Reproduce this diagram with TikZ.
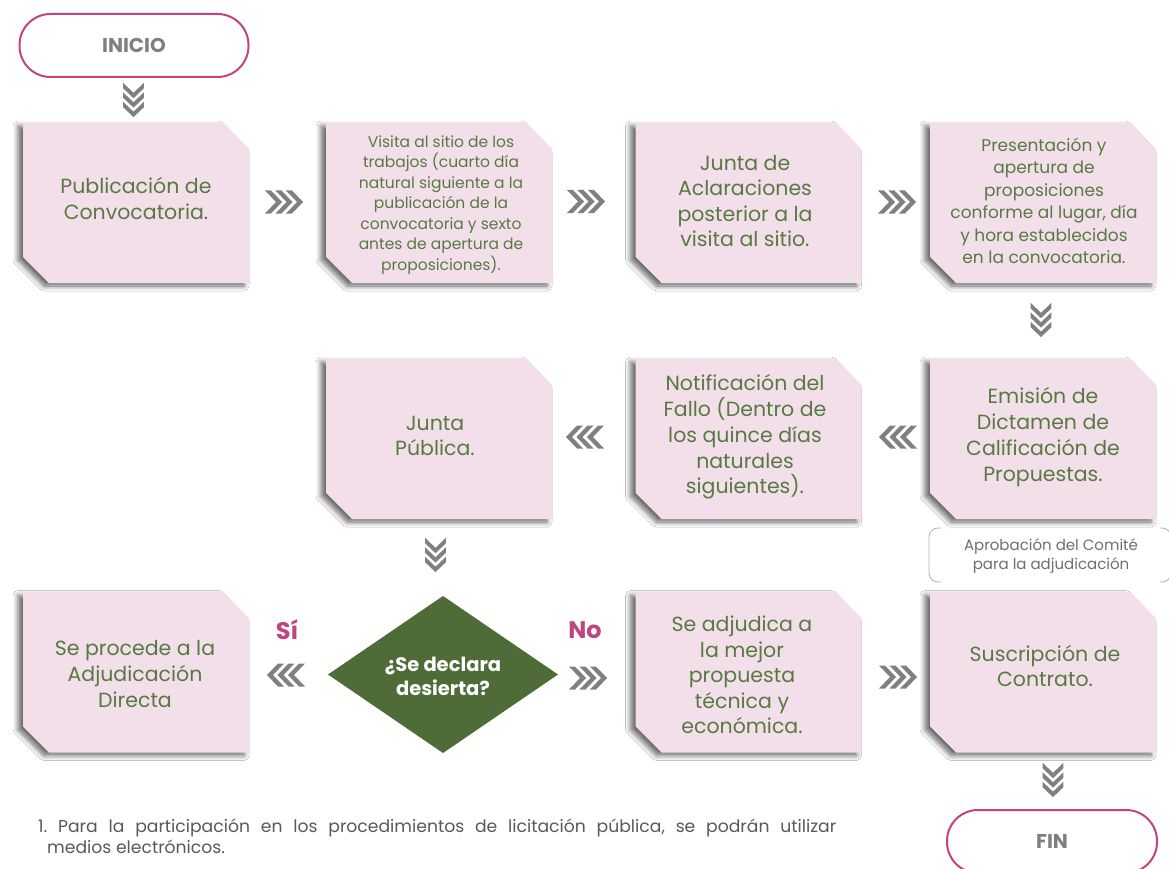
\documentclass[tikz,border=0pt]{standalone}
\usepackage{fontspec}
\setmainfont{Poppins}
\usetikzlibrary{shadows.blur,calc}
\definecolor{boxpink}{HTML}{F2DFEA}
\definecolor{txtgreen}{HTML}{587A42}
\definecolor{dgreen}{HTML}{4E6B38}
\definecolor{chevgray}{HTML}{808080}
\definecolor{magenta}{HTML}{C0457F}
\definecolor{termgray}{HTML}{7F7F7F}
\definecolor{notegray}{HTML}{6F6F6F}
\definecolor{foot}{HTML}{595959}
\newcommand\fs[2]{\fontsize{#1}{#2}\selectfont}
\newcommand\flowbox[7]{%
  \fill[boxpink, blur shadow={shadow xshift=-5pt, shadow yshift=-3pt, shadow blur steps=8, shadow blur radius=5pt, shadow opacity=60}]
    ($(#2,#3)+(-113,-80)$) -- ($(#2,#3)+(88,-80)$) -- ($(#2,#3)+(113,-54)$) --
    ($(#2,#3)+(113,80)$) -- ($(#2,#3)+(-87,80)$) -- ($(#2,#3)+(-113,54)$) -- cycle;
  \node[boxtext, font=#6] (#1) at (#4,#5) {#7};
}
\tikzset{
  boxtext/.style={text=txtgreen, align=center, inner sep=0pt},
  terminal/.style={draw=magenta, line width=2pt, rounded corners=31pt, minimum height=63pt, text=termgray, font=\bfseries\fs{20}{23}},
  chev/.pic={
    \foreach \i in {0,1,2}{
      \fill[chevgray] (-19+10.5*\i,-11.5) -- (-13+10.5*\i,-11.5) -- (-2+10.5*\i,0) -- (-13+10.5*\i,11.5) -- (-19+10.5*\i,11.5) -- (-8+10.5*\i,0) -- cycle;
    }
  },
  yesno/.style={text=magenta, font=\bfseries\fs{24}{26}, inner sep=0pt},
}
\begin{document}
\begin{tikzpicture}[x=1pt,y=-1pt]
\useasboundingbox[fill=white] (0,0) rectangle (1169,869);

% terminals
\node[terminal, minimum width=229pt] (inicio) at (134,45.5) {INICIO};
\node[terminal, minimum width=210pt] (fin) at (1052,841.5) {FIN};

% row 1
\flowbox{b11}{136}{203}{136}{199}{\fs{20.5}{26}}{Publicación de\\Convocatoria.}
\flowbox{b12}{439}{203}{441}{205}{\fs{15.5}{20.5}}{Visita al sitio de los\\trabajos (cuarto día\\natural siguiente a la\\publicación de la\\convocatoria y sexto\\antes de apertura de\\proposiciones).}
\flowbox{b13}{748.5}{203}{745}{201}{\fs{20.5}{25.5}}{Junta de\\Aclaraciones\\posterior a la\\visita al sitio.}
\flowbox{b14}{1043}{203}{1044}{201}{\fs{17}{22.5}}{Presentación y\\apertura de\\proposiciones\\conforme al lugar, día\\y hora establecidos\\en la convocatoria.}

% row 2
\flowbox{b22}{439}{439}{435}{436}{\fs{20.5}{25.8}}{Junta\\Pública.}
\flowbox{b23}{748.5}{439}{745}{437}{\fs{20.5}{25.8}}{Notificación del\\Fallo (Dentro de\\los quince días\\naturales\\siguientes).}
\flowbox{b24}{1043}{439}{1043}{437}{\fs{20.5}{25.8}}{Emisión de\\Dictamen de\\Calificación de\\Propuestas.}

% row 3
\flowbox{b31}{136}{672.5}{135}{674}{\fs{20.5}{25.8}}{Se procede a la\\Adjudicación\\Directa}
\flowbox{b33}{748.5}{672.5}{742}{675}{\fs{20.5}{25.5}}{Se adjudica a\\la mejor\\propuesta\\técnica y\\económica.}
\flowbox{b34}{1043}{672.5}{1045}{666}{\fs{20.5}{25.8}}{Suscripción de\\Contrato.}

% decision
\fill[dgreen] (328,674.5) -- (443,596) -- (558,674.5) -- (443,753) -- cycle;
\node[text=white, align=center, inner sep=0pt, font=\bfseries\fs{19.5}{24}] (dec) at (443,676) {¿Se declara\\desierta?};
\node[yesno] (si) at (287,630) {Sí};
\node[yesno] (no) at (585,630) {No};

% chevrons
\pic[rotate=-90, scale=0.9] at (133.5,100) {chev};
\pic at (284,202) {chev};
\pic at (586,201.5) {chev};
\pic at (897,202) {chev};
\pic[rotate=-90, scale=0.9] at (1041,320) {chev};
\pic[rotate=180] at (898,437) {chev};
\pic[rotate=180] at (585,437) {chev};
\pic[rotate=-90, scale=0.9] at (435.5,555) {chev};
\pic[rotate=180] at (286,675) {chev};
\pic at (588,678) {chev};
\pic at (898,677) {chev};
\pic[rotate=-90, scale=0.9] at (1053,780) {chev};

% comment
\draw[gray!60, line width=0.8pt, rounded corners=9pt] (941,528) -- (929,528) -- (929,582) -- (941,582);
\draw[gray!60, line width=0.8pt, rounded corners=9pt] (1160,528) -- (1171,528) -- (1171,582) -- (1160,582);
\node[text=notegray, align=center, inner sep=0pt, font=\fs{15}{19}] (note) at (1051,556) {Aprobación del Comité\\para la adjudicación};

% footnote
\node[text=foot, align=left, anchor=north west, inner sep=0pt, font=\frenchspacing\fs{17.2}{21}] (footnote) at (38,819)
  {\makebox[798pt][s]{1. Para la participación en los procedimientos de licitación pública, se podrán utilizar}\\\hspace*{9pt}medios electrónicos.};
\end{tikzpicture}
\end{document}
